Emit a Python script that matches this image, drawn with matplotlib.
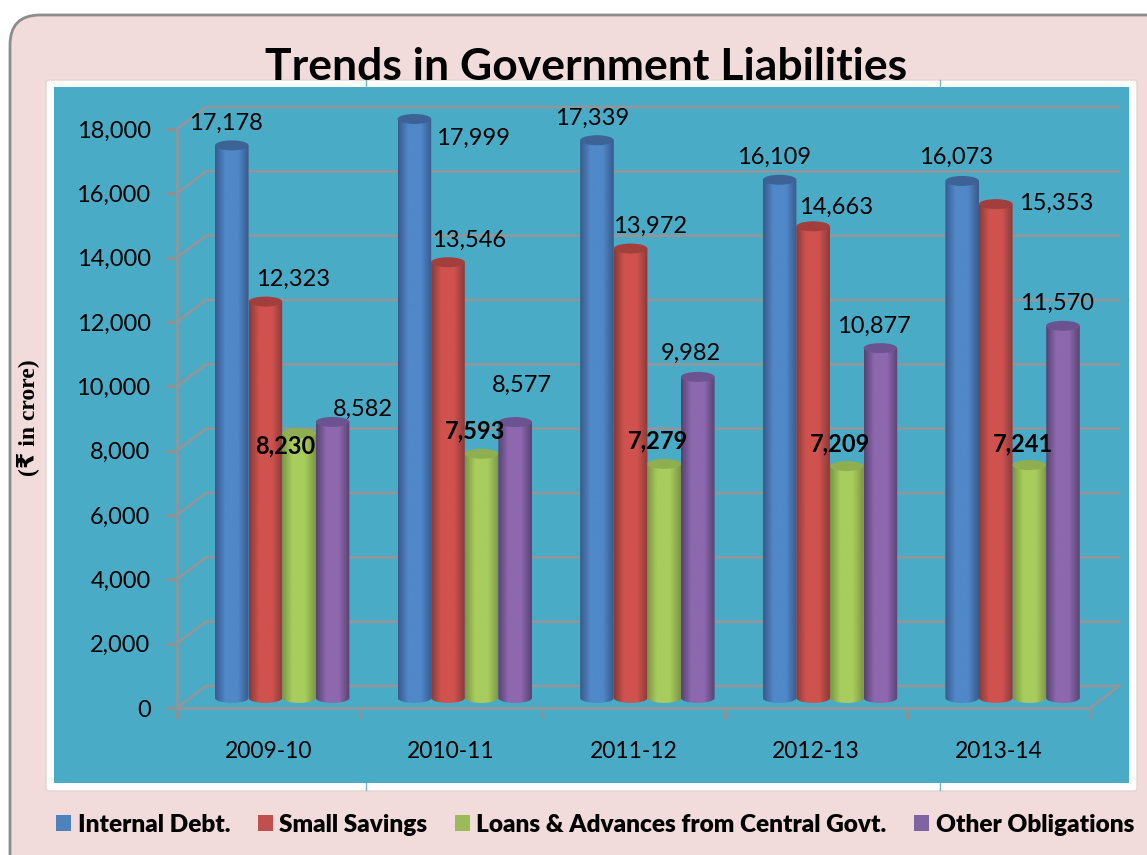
import numpy as np
import matplotlib
matplotlib.use("Agg")
import matplotlib.pyplot as plt
from matplotlib.colors import LinearSegmentedColormap
from matplotlib.patches import Ellipse, FancyBboxPatch, PathPatch, Rectangle
from matplotlib.path import Path

years = ["2009-10", "2010-11", "2011-12", "2012-13", "2013-14"]
internal_debt = [17178, 17999, 17339, 16109, 16073]
small_savings = [12323, 13546, 13972, 14663, 15353]
central_loans = [8230, 7593, 7279, 7209, 7241]
other_obligations = [8582, 8577, 9982, 10877, 11570]
series_names = ["Internal Debt.", "Small Savings",
                "Loans & Advances from Central Govt.", "Other Obligations"]
y_ticks = [0, 2000, 4000, 6000, 8000, 10000, 12000, 14000, 16000, 18000]

# label centres in figure pixels, same order as the series
label_pos = [
    [(226, 123), (473, 138), (592, 118), (774, 157), (956, 157)],
    [(293, 279), (469, 240), (650, 226), (836, 207), (1056, 203)],
    [(285, 446), (475, 431), (658, 441), (840, 444), (1023, 444)],
    [(363, 409), (522, 385), (691, 353), (874, 326), (1057, 303)],
]

W, H = 1147, 855
plt.rcParams["font.family"] = ["Lato", "DejaVu Sans"]

# (edge dark, highlight, top cap, legend swatch)
colors = [
    ("#3a5a8c", "#5088c8", "#3c6296", "#4f81bd"),
    ("#8a3b39", "#d0524e", "#a23f3c", "#c0504d"),
    ("#7c9745", "#a8cc5e", "#8fae50", "#9bbb59"),
    ("#574373", "#8d68ae", "#6b5290", "#8064a2"),
]
grid_col = "#8d979c"

fig = plt.figure(figsize=(W / 100, H / 100), dpi=100, facecolor="white")

# panels behind the chart, in pixel coordinates
bg = fig.add_axes([0, 0, 1, 1], zorder=0)
bg.set_xlim(0, W)
bg.set_ylim(H, 0)
bg.axis("off")
bg.add_patch(FancyBboxPatch((10, 15), W + 60, H + 30,
                            boxstyle="round,pad=0,rounding_size=30",
                            fc="#f2dcdb", ec="#8c8c8c", lw=2))
bg.add_patch(FancyBboxPatch((46, 80), 1091, 711, boxstyle="round,pad=0,rounding_size=3",
                            fc="white", ec="#e6d3d2", lw=1))
bg.add_patch(Rectangle((54, 87), 1075, 696, fc="#4aabc6", ec="none"))
for xp in (366, 940):
    bg.plot([xp, xp], [80, 87], color="#6fb4c8", lw=1)
    bg.plot([xp, xp], [783, 790], color="#6fb4c8", lw=1)

ax = fig.add_axes([177 / W, (H - 708) / H, 913 / W, 579 / H], zorder=1)
ax.patch.set_visible(False)

# depth of the 3-d box, in data units
depth_x = 29 / 182.6
depth_y = 684
bar_w = 0.184
bar_start = 0.208
cap_h = 310

# back wall and floor
for v in y_ticks:
    ax.plot([0, depth_x, 5 + depth_x], [v, v + depth_y, v + depth_y],
            color=grid_col, lw=2, clip_on=False, zorder=1)
ax.plot([5, 5 + depth_x], [0, depth_y], color=grid_col, lw=2, clip_on=False, zorder=1)

all_series = [internal_debt, small_savings, central_loans, other_obligations]
for s, values in enumerate(all_series):
    dark, light, cap, swatch = colors[s]
    cmap = LinearSegmentedColormap.from_list("cyl", [(0, dark), (0.3, light), (0.68, light), (1, dark)])
    for i, v in enumerate(values):
        x0 = i + bar_start + s * bar_w
        base = depth_y / 2 - 30
        top = base + v
        im = ax.imshow(np.linspace(0, 1, 64)[None, :], extent=(x0, x0 + bar_w, base - cap_h, top),
                       cmap=cmap, aspect="auto", zorder=3 + s, interpolation="bilinear")
        # body with a rounded foot
        foot = Path.arc(180, 360)
        foot_v = foot.vertices * [bar_w / 2, cap_h / 2] + [x0 + bar_w / 2, base]
        verts = np.vstack([foot_v, [[x0 + bar_w, top], [x0, top], foot_v[0]]])
        codes = list(foot.codes) + [Path.LINETO, Path.LINETO, Path.LINETO]
        clip = PathPatch(Path(verts, codes), transform=ax.transData, fc="none", ec="none", clip_on=False)
        ax.add_patch(clip)
        im.set_clip_path(clip)
        im.set_clip_box(fig.bbox)
        ax.add_patch(Ellipse((x0 + bar_w / 2, top), bar_w, cap_h, fc=cap, ec="none",
                             zorder=3 + s, clip_on=False))

ax.set_xlim(0, 5)
ax.set_ylim(0, 18000)
ax.set_yticks(y_ticks)
ax.set_yticklabels([f"{v:,}" for v in y_ticks], fontsize=17)
ax.set_xticks(np.arange(5) + 0.5)
ax.set_xticklabels(years, fontsize=16.5)
ax.set_xticks(np.arange(6), minor=True)
ax.tick_params(axis="y", length=8, width=2, color="#94908e", pad=11)
ax.tick_params(axis="x", which="major", length=0, pad=24)
ax.tick_params(axis="x", which="minor", length=8, width=2, color="#94908e")
for side in ("top", "right"):
    ax.spines[side].set_visible(False)
for side in ("left", "bottom"):
    ax.spines[side].set_color(grid_col)
    ax.spines[side].set_linewidth(2)

handles = [Rectangle((0, 0), 1, 1, fc=c[3], ec="none") for c in colors]
fig.legend(handles, series_names, loc="center left", bbox_to_anchor=(34 / W, (H - 825) / H),
           ncol=4, frameon=False, handlelength=0.62, handleheight=0.62, handletextpad=0.26,
           columnspacing=1.13, prop={"family": "Lato", "weight": "heavy", "size": 17.6})

# title and value labels sit above everything
top_ax = fig.add_axes([0, 0, 1, 1], zorder=3)
top_ax.set_xlim(0, W)
top_ax.set_ylim(H, 0)
top_ax.axis("off")
top_ax.text(586, 67, "Trends in Government Liabilities", ha="center", va="center",
            fontsize=32, fontweight="bold", color="black")
for s, values in enumerate(all_series):
    for v, (xp, yp) in zip(values, label_pos[s]):
        top_ax.text(xp, yp, f"{v:,}", ha="center", va="center", fontsize=17, color="black",
                    fontweight="bold" if s == 2 else "normal")
top_ax.text(28, 418, "(₹ in crore)", rotation=90, ha="center", va="center", fontsize=17,
            fontweight="bold", family=["Liberation Serif", "DejaVu Sans"])

fig.savefig("out.png", dpi=100)
